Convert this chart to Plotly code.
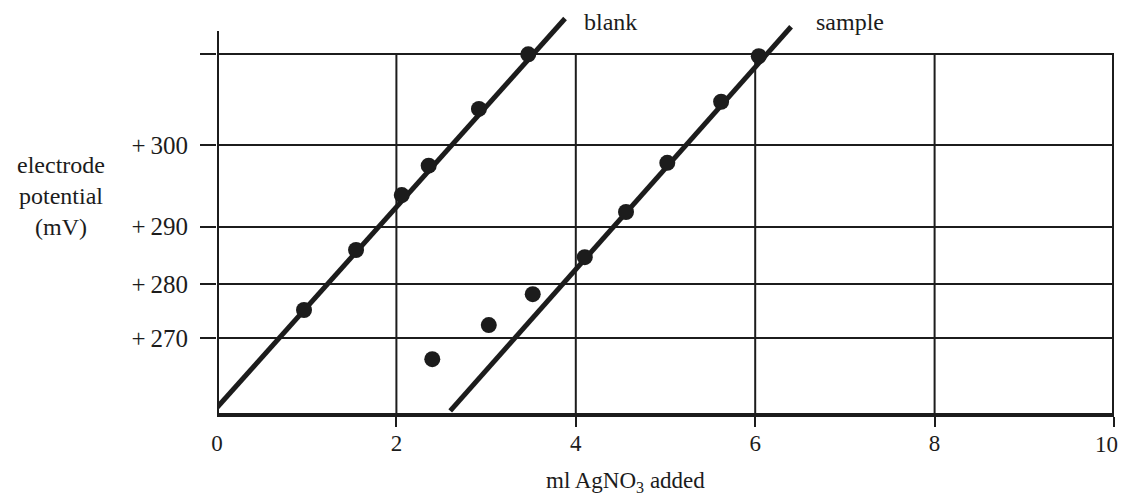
import plotly.graph_objects as go

# ---- data (x: ml AgNO3 added, y: position on the potential scale, graph-paper units) ----
blank_ml = [0.97, 1.55, 2.06, 2.36, 2.92, 3.47]
blank_pos = [28.7, 45.4, 60.7, 68.9, 84.7, 99.9]
blank_fit_ml = [0.0, 3.88]
blank_fit_pos = [1.5, 109.9]

sample_ml = [2.40, 3.03, 3.52, 4.10, 4.56, 5.02, 5.62, 6.04]
sample_pos = [15.0, 24.5, 33.1, 43.4, 56.0, 69.7, 86.7, 99.4]
sample_fit_ml = [2.60, 6.40]
sample_fit_pos = [0.6, 107.6]

x_ticks = [0, 2, 4, 6, 8, 10]
x_ticktext = ["0", "2", "4", "6", "8", " "]   # last label drawn separately (page edge)
x_last_label = "10"
y_ticks = [20.8, 35.8, 51.9, 74.7, 100.0]
y_ticktext = ["+\u2009270", "+\u2009280", "+\u2009290", "+\u2009300", " "]

INK = "#1c1c1c"
FONT = "Liberation Serif, Times New Roman, serif"
FS = 23

fig = go.Figure()

for fx, fy in [(blank_fit_ml, blank_fit_pos), (sample_fit_ml, sample_fit_pos)]:
    fig.add_trace(go.Scatter(x=fx, y=fy, mode="lines",
                             line=dict(color=INK, width=5), showlegend=False,
                             hoverinfo="skip"))
for px, py in [(blank_ml, blank_pos), (sample_ml, sample_pos)]:
    fig.add_trace(go.Scatter(x=px, y=py, mode="markers",
                             marker=dict(color=INK, size=16), showlegend=False,
                             cliponaxis=False))

top = y_ticks[-1]
shapes = []
# vertical grid lines (stop at top grid line)
for xv in x_ticks[1:-1]:
    shapes.append(dict(type="line", xref="x", yref="y", x0=xv, x1=xv, y0=0, y1=top,
                       line=dict(color=INK, width=2), layer="below"))
# right border
shapes.append(dict(type="line", xref="x", yref="y", x0=x_ticks[-1], x1=x_ticks[-1],
                   y0=0, y1=top, line=dict(color=INK, width=4)))
# left axis (extends above top grid line)
shapes.append(dict(type="line", xref="x", yref="y", x0=0, x1=0, y0=0, y1=106.4,
                   line=dict(color=INK, width=4)))
fig.update_layout(shapes=shapes)

fig.add_annotation(text="blank", x=4.07, y=108.9, xref="x", yref="y",
                   xanchor="left", yanchor="middle", showarrow=False,
                   font=dict(family=FONT, size=FS + 1, color=INK))
fig.add_annotation(text="sample", x=6.65, y=108.9, xref="x", yref="y",
                   xanchor="left", yanchor="middle", showarrow=False,
                   font=dict(family=FONT, size=FS + 1, color=INK))
fig.add_annotation(text="electrode<br>potential<br>(mV)", x=-0.174, y=0.538,
                   xref="paper", yref="paper", xanchor="center", yanchor="middle",
                   showarrow=False, align="center",
                   font=dict(family=FONT, size=FS + 1, color=INK))
fig.add_annotation(text="ml AgNO<sub>3</sub> added", x=0.455, y=-0.17,
                   xref="paper", yref="paper", xanchor="center", yanchor="middle",
                   showarrow=False, font=dict(family=FONT, size=FS, color=INK))
# "10" tick label, kept inside the visible page edge
fig.add_annotation(text=x_last_label, x=x_ticks[-1], y=0, xref="x", yref="y",
                   xanchor="right", yanchor="top", xshift=6, yshift=-17,
                   showarrow=False, font=dict(family=FONT, size=FS, color=INK))

fig.update_xaxes(range=[0, 10], tickvals=x_ticks, ticktext=x_ticktext,
                 ticks="", showgrid=False, zeroline=False,
                 showline=True, linecolor=INK, linewidth=4,
                 minor=dict(tickvals=x_ticks[1:], ticks="outside", ticklen=10,
                            tickwidth=2, tickcolor=INK, showgrid=False),
                 ticklabelstandoff=6,
                 tickfont=dict(family=FONT, size=FS, color=INK))
fig.update_yaxes(range=[0, 112.26], tickvals=y_ticks, ticktext=y_ticktext,
                 ticks="outside", ticklen=16, tickwidth=2, tickcolor=INK,
                 showgrid=True, gridcolor=INK, gridwidth=2,
                 zeroline=False, showline=False, ticklabelstandoff=7,
                 tickfont=dict(family=FONT, size=FS + 2, color=INK))

# the page body adds an 8px offset, so the figure is sized/margined to compensate
fig.update_layout(width=1121, height=490,
                  margin=dict(l=209, r=15, t=2, b=85),
                  paper_bgcolor="white", plot_bgcolor="white",
                  font=dict(family=FONT, size=FS, color=INK))

fig.write_html("out.html", config={"displayModeBar": False})
